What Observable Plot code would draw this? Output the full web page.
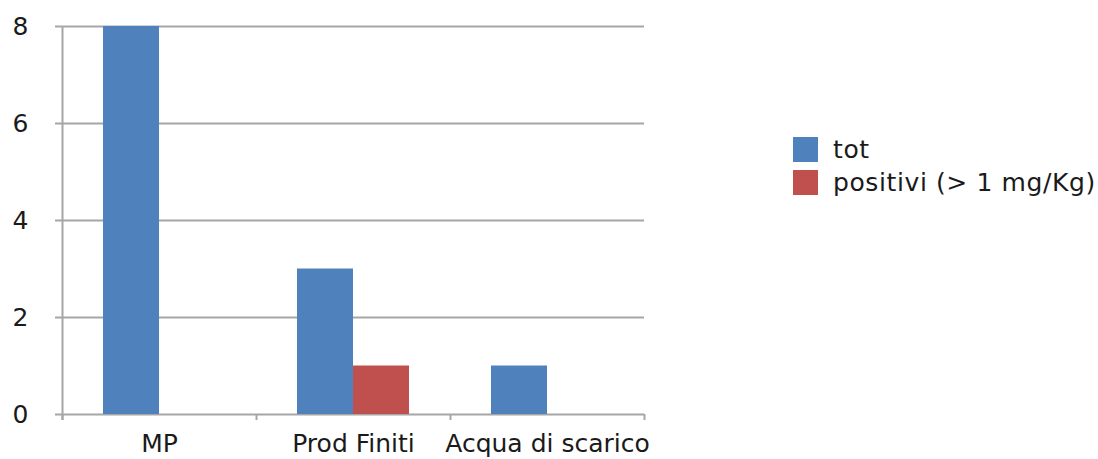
<!DOCTYPE html>
<html><head><meta charset="utf-8">
<script src="https://cdn.jsdelivr.net/npm/d3@7"></script>
<script src="https://cdn.jsdelivr.net/npm/@observablehq/plot@0.6"></script>
<style>
body{margin:0;background:#fff;font-family:"DejaVu Sans",Verdana,sans-serif;color:#1a1a1a;}
#wrap{position:relative;width:1098px;height:459px;}
#legend{position:absolute;left:793px;top:133px;font-size:25px;letter-spacing:0.6px;}
.item{display:flex;align-items:center;height:33px;}
.sw{width:25px;height:25px;margin-right:15px;}
</style></head><body><div id="wrap"><div id="legend"></div></div>
<script>
const categories = ["MP", "Prod Finiti", "Acqua di scarico"];
const seriesNames = ["tot", "positivi (> 1 mg/Kg)"];
const totValues = [8, 3, 1];
const positiviValues = [0, 1, 0];
const yTicks = [0, 2, 4, 6, 8];
const colors = ["#4f81bd", "#c0504d"];

const rows = [];
categories.forEach((c, i) => {
  rows.push({cat: c, series: seriesNames[0], value: totValues[i]});
  rows.push({cat: c, series: seriesNames[1], value: positiviValues[i]});
});

const W = 1098, H = 459, mL = 62, mR = 454, mT = 26, mB = 45;
const band = (W - mL - mR) / categories.length;
const barW = 56;
const gap = (band - 2 * barW) / 2;
const grid = "#a6a6a6";

const chart = Plot.plot({
  width: W, height: H,
  marginLeft: mL, marginRight: mR, marginTop: mT, marginBottom: mB,
  style: {fontFamily: "DejaVu Sans, Verdana, sans-serif", fontSize: "25px", color: "#1a1a1a", background: "transparent"},
  x: {domain: categories, padding: 0, label: null},
  y: {domain: [0, 8], label: null},
  color: {domain: seriesNames, range: colors},
  marks: [
    Plot.ruleY(yTicks, {y: d => d, stroke: grid, strokeWidth: 2, insetLeft: -7}),
    Plot.barY(rows.filter(d => d.series === seriesNames[0]), {x: "cat", y: "value", fill: "series", insetLeft: gap, insetRight: band - gap - barW}),
    Plot.barY(rows.filter(d => d.series === seriesNames[1]), {x: "cat", y: "value", fill: "series", insetLeft: gap + barW, insetRight: gap}),
    Plot.ruleX([categories[0]], {x: d => d, dx: -band / 2, y1: 8, y2: 0, insetBottom: -6, stroke: grid, strokeWidth: 2}),
    Plot.ruleX(categories, {x: d => d, dx: -band / 2, y1: 0, y2: 0, insetBottom: -6, stroke: grid, strokeWidth: 2}),
    Plot.ruleX([categories[categories.length - 1]], {x: d => d, dx: band / 2, y1: 0, y2: 0, insetBottom: -6, stroke: grid, strokeWidth: 2}),
    Plot.axisY({ticks: yTicks, tickSize: 0, tickPadding: 34, fontSize: 25, label: null}),
    Plot.axisX({tickSize: 0, tickPadding: 20, fontSize: 25, label: null})
  ]
});
document.getElementById("wrap").prepend(chart);

const legend = document.getElementById("legend");
seriesNames.forEach((s, i) => {
  const it = document.createElement("div");
  it.className = "item";
  const sw = document.createElement("div");
  sw.className = "sw";
  sw.style.background = colors[i];
  const t = document.createElement("span");
  t.textContent = s;
  it.append(sw, t);
  legend.append(it);
});
</script></body></html>
